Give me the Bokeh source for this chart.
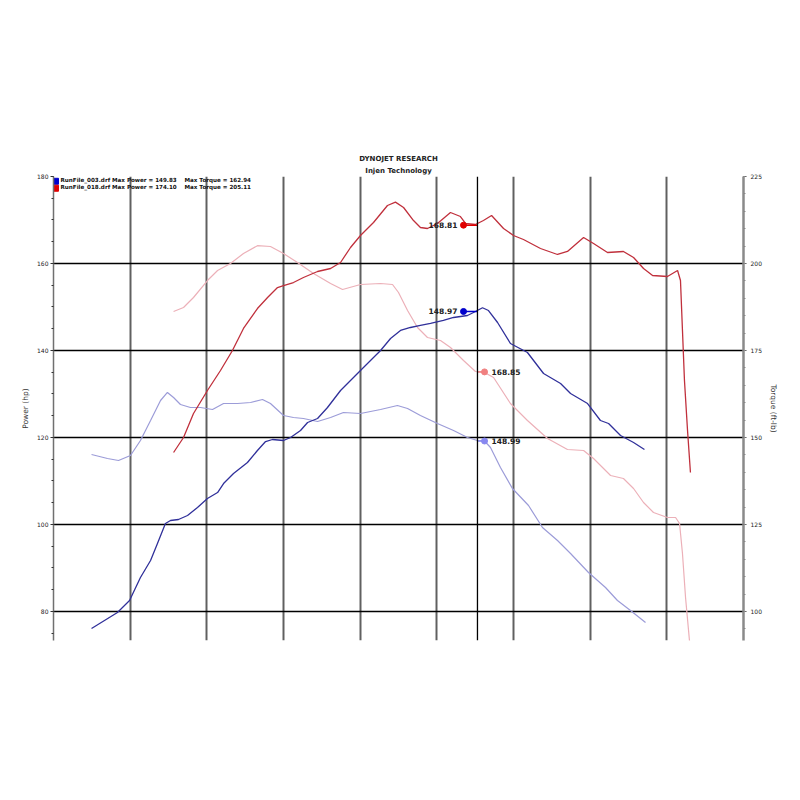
from bokeh.plotting import figure
from bokeh.models import Range1d, LinearAxis, FixedTicker, Span, Title
from bokeh.embed import file_html
from bokeh.resources import INLINE
from bokeh.core.properties import value

# ---- data ----
rpm_pwr_003 = [2248, 2417, 2496, 2567, 2633, 2678, 2730, 2763, 2815, 2874, 2939, 3004, 3070, 3109,
               3174, 3265, 3330, 3383, 3428, 3500, 3546, 3611, 3657, 3722, 3787, 3872, 4002, 4133,
               4198, 4263, 4328, 4393, 4459, 4543, 4609, 4700, 4752, 4798, 4837, 4896, 4980, 5091,
               5196, 5307, 5372, 5483, 5567, 5620, 5698, 5783, 5854]
hp_003 = [76.09, 79.77, 82.53, 87.81, 91.72, 95.63, 100.23, 100.92, 101.15, 102.07, 103.91, 105.98,
          107.35, 109.42, 111.72, 114.25, 117.01, 119.08, 119.54, 119.31, 120.0, 121.61, 123.45,
          124.37, 126.90, 130.80, 135.40, 140.0, 142.76, 144.60, 145.29, 145.75, 146.21, 146.90,
          147.59, 148.05, 148.96, 149.83, 149.19, 146.44, 141.61, 139.54, 134.71, 132.41, 130.11,
          127.81, 123.91, 123.22, 120.46, 118.85, 117.24]

rpm_tq_003 = [2248, 2352, 2424, 2502, 2567, 2633, 2698, 2743, 2783, 2828, 2893, 2959, 3037, 3109,
              3200, 3285, 3363, 3415, 3500, 3565, 3630, 3722, 3807, 3891, 4002, 4133, 4243, 4309,
              4393, 4504, 4609, 4700, 4765, 4811, 4850, 4915, 4993, 5098, 5189, 5287, 5372, 5489,
              5600, 5678, 5763, 5861]
tq_003 = [145.11, 143.96, 143.39, 144.83, 149.14, 154.88, 160.63, 162.94, 161.49, 159.48, 158.62,
          158.62, 158.05, 159.77, 159.77, 160.06, 160.92, 159.77, 156.32, 155.75, 155.46, 154.60,
          155.75, 157.18, 156.90, 158.05, 159.19, 158.33, 156.32, 154.02, 152.01, 150.0, 149.14,
          148.99, 147.13, 141.38, 135.34, 130.46, 124.14, 120.40, 116.67, 111.21, 106.90, 103.16,
          100.29, 96.84]

rpm_pwr_018 = [2783, 2848, 2913, 3004, 3089, 3167, 3239, 3330, 3396, 3461, 3500, 3565, 3630, 3722,
               3807, 3872, 3937, 4002, 4087, 4178, 4230, 4283, 4348, 4393, 4439, 4504, 4589, 4654,
               4687, 4752, 4804, 4857, 4935, 5000, 5065, 5176, 5287, 5352, 5457, 5522, 5613, 5717,
               5783, 5848, 5907, 6004, 6070, 6089, 6102, 6115, 6135, 6154]
hp_018 = [116.55, 120.0, 125.52, 130.80, 135.40, 140.0, 145.06, 149.65, 152.18, 154.48, 154.94,
          155.63, 156.78, 158.16, 158.85, 160.23, 163.68, 166.44, 169.43, 173.33, 174.10, 172.87,
          169.88, 168.28, 168.05, 169.20, 171.72, 170.80, 169.20, 168.97, 169.88, 171.03, 168.05,
          166.44, 165.52, 163.45, 162.07, 162.76, 165.98, 164.60, 162.53, 162.76, 161.38, 158.85,
          157.24, 157.01, 158.39, 156.09, 144.60, 133.10, 121.61, 111.95]

rpm_tq_018 = [2783, 2848, 2913, 3004, 3070, 3154, 3239, 3330, 3415, 3500, 3591, 3696, 3807, 3885,
              4002, 4133, 4211, 4250, 4309, 4374, 4439, 4524, 4589, 4674, 4752, 4811, 4870, 4980,
              5091, 5222, 5352, 5457, 5522, 5633, 5717, 5783, 5848, 5913, 6004, 6057, 6083, 6102,
              6122, 6150]
tq_018 = [186.21, 187.36, 190.23, 195.11, 197.99, 200.0, 202.87, 205.11, 204.88, 202.87, 200.29,
          197.13, 194.25, 192.53, 193.97, 194.25, 193.97, 191.67, 186.49, 181.61, 178.73, 177.87,
          175.86, 172.13, 168.96, 168.68, 167.24, 159.77, 154.88, 149.71, 146.55, 146.26, 143.96,
          139.08, 138.22, 135.34, 131.32, 128.45, 127.01, 127.01, 125.29, 116.67, 104.02, 90.5]

legend_names = ["RunFile_003.drf Max Power = 149.83", "RunFile_018.drf Max Power = 174.10"]
legend_torque = ["Max Torque = 162.94", "Max Torque = 205.11"]

cursor_rpm = 4765
pwr_marker_rpm = 4674
tq_marker_rpm = 4811
pwr_marker_vals = [168.81, 148.97]
tq_marker_vals = [168.85, 148.99]

hp_ticks = [80, 100, 120, 140, 160, 180]
tq_ticks = [100, 125, 150, 175, 200, 225]
rpm_grid = [2500, 3000, 3500, 4000, 4500, 5000, 5500, 6000]

# ---- styles ----
C_BLUE = "#30309a"
C_BLUE_L = "#9c9cd8"
C_RED = "#c0303c"
C_RED_L = "#ecb0b8"
M_RED = "#e00000"
M_BLUE = "#0000cc"
M_RED_L = "#f08080"
M_BLUE_L = "#8888f0"
FONT = "DejaVu Sans"

p = figure(frame_width=690, frame_height=464,
           x_range=Range1d(2000, 6500), y_range=Range1d(73.333, 180),
           output_backend="svg", toolbar_location=None,
           min_border_left=53, min_border_right=50, min_border_top=176, min_border_bottom=20)
p.extra_y_ranges = {"torque": Range1d(91.667, 225)}
p.background_fill_color = "white"
p.border_fill_color = "white"
p.outline_line_color = None

sub = Title(text="Injen Technology", align="center", text_font=FONT, text_font_size="7px",
            text_font_style="bold", text_color="#222222", standoff=3)
main = Title(text="DYNOJET RESEARCH", align="center", text_font=FONT, text_font_size="7px",
             text_font_style="bold", text_color="#222222", standoff=1)
p.add_layout(sub, "above")
p.add_layout(main, "above")

p.xaxis.visible = False
p.xgrid.ticker = FixedTicker(ticks=rpm_grid)
p.xgrid.grid_line_color = "#606060"
p.xgrid.grid_line_width = 2

yax = p.yaxis[0]
yax.ticker = FixedTicker(ticks=hp_ticks, minor_ticks=list(range(75, 181, 5)))
yax.axis_label = "Power (hp)"
yax.axis_label_text_font = FONT
yax.axis_label_text_font_size = "7.5px"
yax.axis_label_text_font_style = "normal"
yax.axis_label_text_color = "#333333"
yax.axis_label_standoff = 4
yax.major_label_text_font = FONT
yax.major_label_text_font_size = "6px"
yax.major_label_text_color = "#222222"
yax.major_label_standoff = 2
yax.axis_line_color = "#707070"
yax.axis_line_width = 1.5
yax.major_tick_in = 0
yax.major_tick_out = 3
yax.minor_tick_in = 0
yax.minor_tick_out = 2
yax.major_tick_line_color = "#333333"
yax.minor_tick_line_color = "#333333"

p.ygrid.ticker = FixedTicker(ticks=hp_ticks)
p.ygrid.grid_line_color = "black"
p.ygrid.grid_line_width = 1.5

rax = LinearAxis(y_range_name="torque", axis_label="Torque (ft-lb)",
                 ticker=FixedTicker(ticks=tq_ticks, minor_ticks=list(range(95, 226, 5))))
rax.axis_label_text_font = FONT
rax.axis_label_text_font_size = "7.5px"
rax.axis_label_text_font_style = "normal"
rax.axis_label_text_color = "#333333"
rax.axis_label_standoff = 4
rax.major_label_text_font = FONT
rax.major_label_text_font_size = "6px"
rax.major_label_text_color = "#222222"
rax.major_label_standoff = 4
rax.axis_line_color = "#8a8a8a"
rax.axis_line_width = 2.5
rax.major_tick_in = 0
rax.major_tick_out = 3
rax.minor_tick_in = 0
rax.minor_tick_out = 2
rax.major_tick_line_color = "#555555"
rax.minor_tick_line_color = "#888888"
p.add_layout(rax, "right")

p.add_layout(Span(location=cursor_rpm, dimension="height", line_color="black", line_width=1.3))

# curves
p.line(rpm_tq_003, tq_003, y_range_name="torque", line_color=C_BLUE_L, line_width=1.2)
p.line(rpm_tq_018, tq_018, y_range_name="torque", line_color=C_RED_L, line_width=1.2)
p.line(rpm_pwr_003, hp_003, line_color=C_BLUE, line_width=1.3)
p.line(rpm_pwr_018, hp_018, line_color=C_RED, line_width=1.3)

# cursor markers
p.segment(x0=[cursor_rpm] * 2, x1=[pwr_marker_rpm] * 2, y0=pwr_marker_vals, y1=pwr_marker_vals,
          line_color=[M_RED, M_BLUE], line_width=1.5)
p.segment(x0=[cursor_rpm] * 2, x1=[tq_marker_rpm] * 2, y0=tq_marker_vals, y1=tq_marker_vals,
          y_range_name="torque", line_color=[M_RED_L, M_BLUE_L], line_width=1.5)
p.scatter([pwr_marker_rpm] * 2, pwr_marker_vals, size=6, marker="circle",
          fill_color=[M_RED, M_BLUE], line_color=[M_RED, M_BLUE])
p.scatter([tq_marker_rpm] * 2, tq_marker_vals, size=6, marker="circle", y_range_name="torque",
          fill_color=[M_RED_L, M_BLUE_L], line_color=[M_RED_L, M_BLUE_L])
p.text([4635] * 2, pwr_marker_vals, text=[f"{v:.2f}" for v in pwr_marker_vals],
       text_font=value(FONT), text_font_size="7.5px", text_font_style="bold",
       text_color="#222222", text_align="right", text_baseline="middle")
p.text([4857] * 2, tq_marker_vals, text=[f"{v:.2f}" for v in tq_marker_vals], y_range_name="torque",
       text_font=value(FONT), text_font_size="7.5px", text_font_style="bold",
       text_color="#222222", text_align="left", text_baseline="middle")

# legend
p.scatter([2013, 2013], [178.9, 177.3], marker="square", size=6,
          fill_color=[M_BLUE, M_RED], line_color=[M_BLUE, M_RED])
p.text([2046, 2046], [179.1, 177.5], text=legend_names, text_font=value(FONT),
       text_font_size="5.6px", text_font_style="bold", text_color="#111111",
       text_align="left", text_baseline="middle")
p.text([2854, 2854], [179.1, 177.5], text=legend_torque, text_font=value(FONT),
       text_font_size="5.6px", text_font_style="bold", text_color="#111111",
       text_align="left", text_baseline="middle")

open("out.html", "w").write(file_html(p, INLINE))
